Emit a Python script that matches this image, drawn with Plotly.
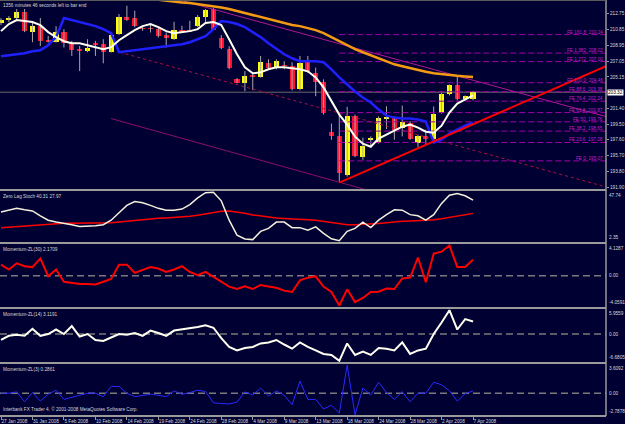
import plotly.graph_objects as go

# ---------------- data ----------------
DATES = ["27 Jan 2008", "31 Jan 2008", "5 Feb 2008", "10 Feb 2008", "14 Feb 2008", "19 Feb 2008",
         "24 Feb 2008", "28 Feb 2008", "4 Mar 2008", "9 Mar 2008", "13 Mar 2008", "18 Mar 2008",
         "24 Mar 2008", "28 Mar 2008", "2 Apr 2008", "7 Apr 2008"]
DATE_BARS = [0, 4, 8, 12, 16, 20, 24, 28, 32, 36, 40, 44, 48, 52, 56, 60]

OPEN = [211.63, 211.95, 212.20, 212.92, 210.58, 211.30, 209.51, 209.37, 210.58, 209.18,
        208.38, 208.28, 209.25, 209.09, 208.21, 210.30, 212.32, 212.20, 210.95, 210.95,
        210.90, 210.18, 209.69, 210.68, 210.70, 211.23, 212.32, 213.32, 209.78, 208.57,
        204.86, 204.46, 205.28, 205.19, 206.88, 206.19, 206.49, 206.47, 203.65, 206.95,
        205.59, 204.54, 198.50, 198.10, 193.39, 200.43, 195.52, 197.64, 197.21, 200.19,
        200.24, 199.03, 199.63, 197.21, 198.01, 197.70, 200.84, 203.05, 204.14, 202.45,
        202.45]
HIGH = [212.23, 212.47, 213.32, 213.32, 211.75, 212.23, 210.09, 211.26, 210.90, 209.49,
        208.88, 209.69, 209.49, 209.69, 210.54, 212.71, 213.72, 213.11, 211.30, 211.51,
        211.11, 210.50, 211.78, 211.30, 211.90, 212.59, 213.32, 213.44, 210.18, 208.85,
        205.02, 205.86, 205.59, 207.68, 207.28, 207.28, 207.04, 206.92, 207.68, 207.68,
        206.28, 204.86, 199.55, 200.63, 201.56, 200.63, 197.86, 198.01, 200.43, 201.64,
        200.39, 201.72, 199.83, 198.22, 198.82, 201.60, 203.26, 204.26, 205.19, 202.93,
        203.45]
LOW = [211.38, 211.75, 211.87, 210.54, 209.33, 208.88, 209.30, 209.30, 208.69, 207.68,
       205.86, 208.12, 207.68, 206.79, 208.09, 210.18, 211.90, 211.11, 210.70, 210.50,
       209.90, 208.69, 209.61, 210.50, 210.58, 211.14, 211.71, 210.78, 208.49, 206.07,
       204.38, 203.45, 203.57, 205.07, 206.07, 206.07, 206.07, 203.53, 203.53, 205.65,
       202.84, 200.63, 197.61, 192.58, 193.18, 195.52, 195.20, 196.80, 197.13, 198.90,
       197.61, 198.01, 197.61, 196.73, 197.01, 197.21, 200.75, 202.93, 202.33, 202.33,
       202.33]
CLOSE = [211.99, 212.23, 212.92, 210.62, 211.30, 209.49, 209.47, 210.58, 209.18, 208.40,
         208.36, 208.69, 209.01, 208.21, 210.18, 212.32, 212.11, 211.23, 210.93, 210.93,
         210.09, 209.78, 210.78, 210.64, 210.66, 212.32, 213.20, 210.82, 208.69, 206.28,
         204.46, 205.26, 205.24, 206.95, 206.28, 207.07, 206.47, 203.65, 206.88, 205.74,
         204.54, 200.84, 198.10, 193.66, 200.43, 195.60, 196.89, 197.66, 200.24, 200.36,
         198.82, 199.70, 197.70, 198.01, 197.70, 200.75, 203.05, 204.14, 202.45, 202.81,
         203.32]

MA_WHITE = [210.66, 211.51, 211.99, 211.87, 211.75, 211.38, 210.54, 209.94, 209.45, 209.21,
            209.21, 208.97, 208.73, 208.49, 208.73, 209.57, 210.18, 210.78, 211.26, 211.51,
            211.14, 210.66, 210.42, 210.54, 210.66, 210.90, 211.63, 211.75, 211.38, 209.69,
            207.88, 206.31, 205.59, 205.71, 206.07, 206.31, 206.31, 206.19, 206.07, 205.83,
            205.10, 203.90, 202.20, 200.63, 199.43, 197.98, 197.13, 196.77, 197.74, 198.22,
            198.70, 199.18, 199.43, 199.06, 198.58, 198.46, 199.30, 200.88, 201.96, 202.45,
            202.93]
MA_BLUE = [207.64, 207.76, 207.88, 208.00, 208.24, 208.37, 208.97, 209.94, 212.23, 211.99,
           211.75, 211.51, 211.26, 210.90, 210.42, 208.13, 208.24, 208.37, 208.49, 208.61,
           208.73, 208.85, 208.97, 209.09, 209.33, 209.69, 210.06, 210.90, 211.87, 211.75,
           211.51, 211.14, 210.54, 209.94, 209.21, 208.49, 207.88, 207.40, 207.04, 207.04,
           207.04, 206.92, 206.07, 205.10, 204.26, 203.41, 202.69, 202.08, 201.24, 200.51,
           200.27, 200.15, 200.15, 200.03, 199.79, 197.25, 197.61, 198.34, 198.82, 199.30,
           199.67]
MA_ORANGE_START = 18
MA_ORANGE = [214.65, 214.53, 214.41, 214.28, 214.16, 214.10, 214.04, 213.92, 213.80, 213.68,
             213.50, 213.32, 213.08, 212.84, 212.59, 212.35, 212.11, 211.87, 211.63, 211.39,
             211.26, 211.02, 210.78, 210.42, 209.94, 209.45, 208.97, 208.49, 208.12, 207.76,
             207.40, 207.04, 206.67, 206.43, 206.19, 205.95, 205.77, 205.59, 205.47, 205.35,
             205.29, 205.22, 205.16]

CURRENT_PRICE = 203.32
PRICE_TICKS = [191.90, 193.80, 195.70, 197.60, 199.50, 201.40, 205.15, 207.05, 208.95, 210.85, 212.75]

FE_START_BAR = 43
FE_NAMES = ["FE 161.8", "FE 1.382", "FE 1.272", "FE 100.0", "FE 88.6", "FE 76.4",
            "FE 61.8", "FE 50", "FE 38.2", "FE 23.6", "FE 0"]
FE_PRICES = [210.24, 208.02, 207.00, 204.46, 203.38, 202.24, 200.87, 199.76, 198.65, 197.28, 195.07]

# trend lines: (bar, price) end points
TREND_RED_X = [43.0, 76.9]
TREND_RED_Y = [192.45, 206.45]
TREND_DOT_X = [15.1, 76.9]
TREND_DOT_Y = [208.12, 191.94]
CHANNEL_LOW_X = [14.0, 50.0]
CHANNEL_LOW_Y = [200.15, 190.66]
CHANNEL_TOP_X = [20.0, 76.9]
CHANNEL_TOP_Y = [215.09, 200.39]

STOCH_MAIN = [29.2, 31.3, 32.7, 31.3, 30.3, 25.7, 21.6, 19.8, 18.8, 17.4,
              15.6, 15.6, 16.3, 17.4, 21.6, 28.5, 35.5, 39.0, 38.0, 35.5,
              32.7, 31.0, 31.0, 32.0, 36.2, 42.5, 47.4, 47.74, 39.7, 21.6,
              7.6, 4.0, 3.4, 11.1, 13.9, 19.8, 19.8, 14.6, 14.6, 12.1,
              15.3, 9.3, 4.1, 2.35, 11.1, 13.9, 19.8, 14.6, 21.6, 26.8,
              31.3, 31.0, 26.8, 25.7, 21.6, 26.8, 37.3, 45.0, 46.5, 44.5,
              40.31]
STOCH_SIGNAL = [14.6, 15.2, 15.8, 16.4, 17.0, 17.5, 18.0, 18.4, 18.7, 18.8,
                18.8, 18.8, 18.8, 18.9, 19.2, 19.8, 20.6, 21.4, 22.1, 22.7,
                23.3, 23.7, 24.1, 24.6, 25.3, 26.3, 27.5, 28.8, 30.0, 30.3,
                29.5, 28.0, 26.5, 25.3, 24.3, 23.6, 23.2, 23.0, 22.5, 22.0,
                21.5, 20.5, 19.2, 18.0, 17.4, 17.3, 17.5, 17.8, 18.4, 19.2,
                20.0, 20.5, 20.8, 21.0, 21.4, 22.0, 23.0, 24.2, 25.5, 26.7,
                27.97]
STOCH_MIN, STOCH_MAX = 2.35, 47.74

MOM30 = [1.51, 0.85, 1.70, 1.31, 1.18, 2.36, -0.07, 0.85, -0.81, -0.96,
         -1.11, -1.11, -1.18, -0.81, -0.44, 1.51, 1.51, 0.39, 0.79, 1.18,
         0.98, 0.52, 0.85, 1.31, 0.52, 0.07, 0.52, -0.15, -0.81, -1.48,
         -1.81, -1.44, -1.81, -1.25, -1.48, -1.63, -2.03, -2.21, -0.63, -0.26,
         -0.07, -1.48, -2.21, -4.0591, -1.85, -3.59, -3.03, -2.21, -2.18, -1.74,
         -1.81, -0.37, -0.26, 2.49, -0.89, 3.01, 3.28, 4.1287, 1.18, 1.18,
         2.1709]
MOM30_MIN, MOM30_MAX = -4.0591, 4.1287

MOM14 = [-1.48, -0.44, -0.17, -0.44, 1.31, -0.44, 0.0, 1.13, 0.0, 2.00,
         -0.61, 0.0, -1.48, -1.74, -0.87, 0.0, -0.17, 0.26, -0.44, 0.87,
         0.26, -0.44, 0.87, 1.13, 1.57, 1.74, 2.18, 1.57, -1.04, -3.22,
         -4.09, -3.48, -3.22, -2.35, -2.09, -1.48, -2.61, -3.65, -2.09, -3.22,
         -4.09, -4.96, -5.22, -6.6805, -2.35, -5.22, -4.35, -5.22, -3.48, -3.65,
         -4.09, -2.09, -4.96, -4.09, -3.65, 0.0, 2.87, 5.9559, 1.13, 3.74,
         3.1191]
MOM14_MIN, MOM14_MAX = -6.6805, 5.9559

MOM3 = [0.0, 0.0, 0.17, -1.11, 0.08, -1.02, -0.14, 0.39, -0.80, -0.58,
        -0.27, 0.0, 0.0, -0.45, 0.87, 0.87, 0.0, -0.45, -0.27, -0.14,
        -0.27, -0.45, 0.30, -0.14, 0.08, 0.39, 0.21, -1.24, -1.33, -1.38,
        -1.16, 0.17, -0.23, 0.65, -0.36, 0.30, -0.27, -1.47, 1.54, -0.80,
        -0.80, -2.04, -1.55, -2.57, 3.6092, -2.7878, 0.65, -0.23, 1.40, 0.08,
        -0.80, 0.21, -1.11, 0.0, 0.0, 1.40, 1.09, 0.30, -1.02, -0.05,
        0.2861]
MOM3_MIN, MOM3_MAX = -2.7878, 3.6092

BARS = list(range(len(OPEN)))

# ---------------- style ----------------
BG = "#000033"
TXT = "#d8d8d8"
GRID = "#9a9a9a"
FONT = "Liberation Sans"
FS = 4.7
UP, DN, WICK = "#ffff00", "#ff1030", "#a8a8a8"

X_RANGE = [-0.127, 76.9]
PLOT_H = 416.0


def pfrac(px):
    return (PLOT_H - px) / PLOT_H


fig = go.Figure()

# wicks
wx, wy = [], []
for i in BARS:
    wx += [i, i, None]
    wy += [LOW[i], HIGH[i], None]
fig.add_trace(go.Scatter(x=wx, y=wy, mode="lines", line=dict(color=WICK, width=1),
                         yaxis="y", hoverinfo="skip"))

# bodies
base = [min(o, c) for o, c in zip(OPEN, CLOSE)]
height = [max(abs(c - o), 0.07) for o, c in zip(OPEN, CLOSE)]
colors = [UP if c >= o else DN for o, c in zip(OPEN, CLOSE)]
fig.add_trace(go.Bar(x=BARS, y=height, base=base, width=0.66,
                     marker=dict(color=colors, line=dict(width=0)), yaxis="y", hoverinfo="skip"))

# trend lines / channels
fig.add_trace(go.Scatter(x=TREND_DOT_X, y=TREND_DOT_Y, mode="lines",
                         line=dict(color="#b0103c", width=1, dash="dot"), yaxis="y"))
fig.add_trace(go.Scatter(x=CHANNEL_LOW_X, y=CHANNEL_LOW_Y, mode="lines",
                         line=dict(color="#8c1064", width=1), yaxis="y"))
fig.add_trace(go.Scatter(x=CHANNEL_TOP_X, y=CHANNEL_TOP_Y, mode="lines",
                         line=dict(color="#b01890", width=1), yaxis="y"))

# FE levels
fx, fy = [], []
for p in FE_PRICES:
    fx += [FE_START_BAR, X_RANGE[1], None]
    fy += [p, p, None]
fig.add_trace(go.Scatter(x=fx, y=fy, mode="lines",
                         line=dict(color="#a000a8", width=1, dash="6px,3px"), yaxis="y"))

# moving averages
ob = list(range(MA_ORANGE_START, MA_ORANGE_START + len(MA_ORANGE)))
fig.add_trace(go.Scatter(x=ob, y=MA_ORANGE, mode="lines", line=dict(color="#f39a12", width=2.5), yaxis="y"))
fig.add_trace(go.Scatter(x=BARS, y=MA_BLUE, mode="lines", line=dict(color="#2020ff", width=2.5), yaxis="y"))
fig.add_trace(go.Scatter(x=BARS, y=MA_WHITE, mode="lines", line=dict(color="#fffff0", width=2), yaxis="y"))
fig.add_trace(go.Scatter(x=TREND_RED_X, y=TREND_RED_Y, mode="lines",
                         line=dict(color="#ff0000", width=2), yaxis="y"))

# indicator panels
fig.add_trace(go.Scatter(x=BARS, y=STOCH_SIGNAL, mode="lines", line=dict(color="#ff0000", width=1.5), yaxis="y2"))
fig.add_trace(go.Scatter(x=BARS, y=STOCH_MAIN, mode="lines", line=dict(color="#f4f0dc", width=1.5), yaxis="y2"))
fig.add_trace(go.Scatter(x=BARS, y=MOM30, mode="lines", line=dict(color="#ff0000", width=2), yaxis="y3"))
fig.add_trace(go.Scatter(x=BARS, y=MOM14, mode="lines", line=dict(color="#fffff0", width=2), yaxis="y4"))
fig.add_trace(go.Scatter(x=BARS, y=MOM3, mode="lines", line=dict(color="#2a2aff", width=1), yaxis="y5"))

shapes = []
# bid line
shapes.append(dict(type="line", xref="paper", x0=0, x1=1, yref="y", y0=CURRENT_PRICE, y1=CURRENT_PRICE,
                   line=dict(color="#6a6a6a", width=1), layer="below"))
# zero lines
for ya in ["y3", "y4", "y5"]:
    shapes.append(dict(type="line", xref="paper", x0=0, x1=1, yref=ya, y0=0, y1=0,
                       line=dict(color="#7a7a7a", width=1.5, dash="7px,4px"), layer="below"))
# panel separators & frame
for px in [190, 243, 308, 363, 416]:
    shapes.append(dict(type="line", xref="paper", x0=0, x1=1, yref="paper", y0=pfrac(px), y1=pfrac(px),
                       line=dict(color=GRID, width=2)))
shapes.append(dict(type="line", xref="paper", x0=1, x1=1, yref="paper", y0=0, y1=1,
                   line=dict(color=GRID, width=1.5)))
shapes.append(dict(type="line", xref="paper", x0=0, x1=1, yref="paper", y0=pfrac(0.5), y1=pfrac(0.5),
                   line=dict(color="#5a5a5a", width=1)))

ann = []


def txt(text, x, y, xref="paper", yref="paper", xanchor="left", yanchor="top", color=TXT, **kw):
    ann.append(dict(text=text, x=x, y=y, xref=xref, yref=yref, xanchor=xanchor, yanchor=yanchor,
                    showarrow=False, font=dict(size=FS, color=color, family=FONT), borderpad=0, **kw))


txt("1356 minutes 46 seconds left to bar end", 0.004, 1, yshift=-2)
txt("Zero Lag Stoch 40.31 27.97", 0.004, 1, yref="y2 domain", yshift=-2)
txt("Momentum-ZL(30) 2.1709", 0.004, 1, yref="y3 domain", yshift=-2)
txt("Momentum-ZL(14) 3.1191", 0.004, 1, yref="y4 domain", yshift=-2)
txt("Momentum-ZL(3) 0.2861", 0.004, 1, yref="y5 domain", yshift=-2)
txt("Interbank FX Trader 4, © 2001-2008 MetaQuotes Software Corp.", 0.004, 0, yref="y5 domain",
    yanchor="bottom", yshift=3)

# right scale labels for indicators
for dom, lo, hi, zero in [("y2", STOCH_MIN, STOCH_MAX, False), ("y3", MOM30_MIN, MOM30_MAX, True),
                          ("y4", MOM14_MIN, MOM14_MAX, True), ("y5", MOM3_MIN, MOM3_MAX, True)]:
    fmt = "{:.2f}" if dom == "y2" else "{:.4f}"
    txt(fmt.format(hi), 1, 1, yref=dom + " domain", xshift=2, yshift=-1)
    txt(fmt.format(lo), 1, 0, yref=dom + " domain", yanchor="bottom", xshift=2, yshift=1)
    if zero:
        txt("0.00", 1, 0, yref=dom, yanchor="middle", xshift=2)

# FE labels
for name, p in zip(FE_NAMES, FE_PRICES):
    txt("%s  %.2f" % (name, p), X_RANGE[1] - 0.25, p, xref="x", yref="y", xanchor="right",
        yanchor="bottom", color="#c020c8", yshift=-1)

# current price box
ann.append(dict(text="%.2f" % CURRENT_PRICE, x=1, y=CURRENT_PRICE, xref="paper", yref="y", xanchor="left",
                yanchor="middle", showarrow=False, bgcolor="#ffffff", borderpad=0, xshift=1,
                font=dict(size=FS, color="#000000", family=FONT)))

axis_common = dict(showgrid=False, zeroline=False, showline=False, anchor="x", side="right",
                   automargin=False, fixedrange=True)
fig.update_layout(
    template="none",
    width=625, height=424, margin=dict(l=0, r=19, t=0, b=8, pad=0),
    paper_bgcolor=BG, plot_bgcolor=BG, showlegend=False, bargap=0,
    xaxis=dict(range=X_RANGE, domain=[0, 1], anchor="y5", tickvals=DATE_BARS, ticktext=DATES,
               ticks="outside", ticklen=3, tickcolor=GRID, ticklabelposition="outside right",
               tickangle=0, automargin=False,
               tickfont=dict(size=FS, color=TXT, family=FONT), showgrid=False, zeroline=False,
               showline=False, fixedrange=True),
    yaxis=dict(domain=[pfrac(189), 1], range=[191.69, 214.40], tickvals=PRICE_TICKS,
               ticktext=["%.2f" % v for v in PRICE_TICKS], ticks="outside", ticklen=2, tickcolor=GRID,
               tickfont=dict(size=FS, color=TXT, family=FONT), **axis_common),
    yaxis2=dict(domain=[pfrac(242), pfrac(191)], range=[STOCH_MIN - 1.2, STOCH_MAX + 1.2],
                showticklabels=False, **axis_common),
    yaxis3=dict(domain=[pfrac(307), pfrac(244)], range=[MOM30_MIN - 0.2, MOM30_MAX + 0.2],
                showticklabels=False, **axis_common),
    yaxis4=dict(domain=[pfrac(362), pfrac(309)], range=[MOM14_MIN - 0.3, MOM14_MAX + 0.3],
                showticklabels=False, **axis_common),
    yaxis5=dict(domain=[0, pfrac(364)], range=[MOM3_MIN - 0.15, MOM3_MAX + 0.15],
                showticklabels=False, **axis_common),
    shapes=shapes, annotations=ann,
)

fig.write_html("out.html")
